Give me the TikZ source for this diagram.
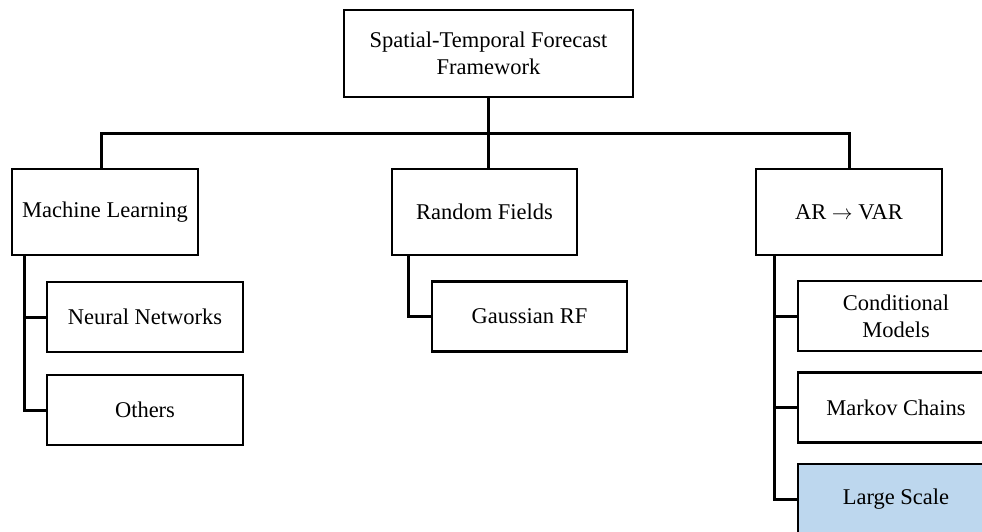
\documentclass[tikz,border=0pt]{standalone}
\usepackage{fontspec}
\setmainfont{Liberation Serif}
\usepackage{xcolor}
\usepackage{tikz}
\usetikzlibrary{positioning, calc}

\definecolor{paleblue}{HTML}{BDD7EE}

\begin{document}
\begin{tikzpicture}[
    x=1pt, y=-1pt,
    box/.style={rectangle, draw, line width=2.6pt, fill=white, align=center, font=\fontsize{22.5}{27}\selectfont},
    topbox/.style={box, minimum width=289pt, minimum height=87pt},
    headbox/.style={box, minimum width=186pt, minimum height=86pt},
    leafbox/.style={box, minimum width=196pt, minimum height=70pt},
    link/.style={line width=3pt}
]
\clip (0,0) rectangle (982,531);

% Root
\node[topbox] (fw) at (488.5, 53.5) {Spatial-Temporal Forecast\\Framework};

% Branches
\node[headbox] (ml) at (105, 212) {Machine Learning};
\node[headbox, minimum width=185pt] (rf) at (484.5, 212) {Random Fields};
\node[headbox] (var) at (849, 212) {AR $\to$ VAR};

% Leaves
\node[leafbox] (nn) at (145, 317) {Neural Networks};
\node[leafbox] (oth) at (145, 410) {Others};
\node[leafbox, minimum width=195pt] (grf) at (529.5, 316.5) {Gaussian RF};
\node[leafbox] (cond) at (896, 316) {Conditional\\Models};
\node[leafbox] (markov) at (896, 407.5) {Markov Chains};
\node[leafbox, fill=paleblue] (large) at (896, 499) {Large Scale};

% Connections
\coordinate (bus) at (489, 133);
\draw[link] (fw.south) -- (fw.south |- rf.north);
\draw[link] ([xshift=-4pt]ml.north) |- (bus) -| (var.north);

\coordinate (mltrunk) at ([xshift=14pt]ml.south west);
\draw[link] (mltrunk) |- (oth.west);
\draw[link] (mltrunk |- nn.west) -- (nn.west);

\coordinate (rftrunk) at ([xshift=18pt]rf.south west);
\draw[link] (rftrunk) |- (grf.west);

\coordinate (vartrunk) at ([xshift=20pt]var.south west);
\draw[link] (vartrunk) |- (large.west);
\draw[link] (vartrunk |- cond.west) -- (cond.west);
\draw[link] (vartrunk |- markov.west) -- (markov.west);

\end{tikzpicture}
\end{document}
